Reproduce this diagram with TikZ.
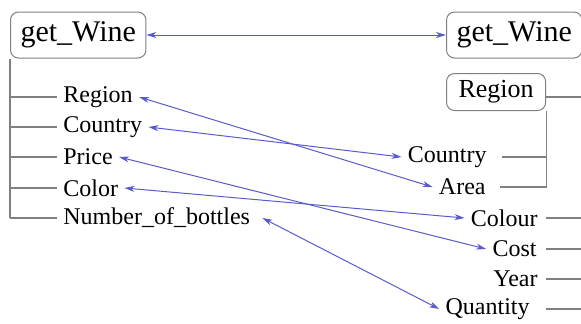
\documentclass[tikz,border=0pt]{standalone}
\usepackage{fontspec}
\setmainfont{Liberation Serif}
\usetikzlibrary{arrows.meta}
\definecolor{linkblue}{RGB}{90,90,205}

\begin{document}
\begin{tikzpicture}[x=0.5pt,y=-0.5pt,
  box/.style={draw=gray,rounded corners=4pt,line width=0.5pt,anchor=west},
  item/.style={inner sep=3pt,font=\fontsize{12}{14}\selectfont},
  tree/.style={draw=gray,line width=0.6pt},
  link/.style={draw=linkblue,line width=0.5pt,
    {Stealth[length=5pt,width=3pt,inset=1.5pt]}-{Stealth[length=5pt,width=3pt,inset=1.5pt]}}]
\useasboundingbox (0,0) rectangle (581,323);
\clip (0,0) rectangle (581,323);
\coordinate (E) at (590,0);
% left schema
\node[box,inner xsep=5pt,minimum height=23pt,font=\fontsize{15}{17}\selectfont] (lw) at (10,35) {get\_Wine};
\node[item,anchor=west] (lreg) at (57,97) {Region};
\node[item,anchor=west] (lcou) at (57,127) {Country};
\node[item,anchor=west] (lpri) at (57,157) {Price};
\node[item,anchor=west] (lcol) at (57,188) {Color};
\node[item,anchor=west] (lnum) at (57,218) {Number\_of\_bottles};
\draw[tree] (lw.south west) -- (lw.south west |- lnum.west);
\draw[tree] (lreg.west -| lw.south west) -- (lreg.west);
\draw[tree] (lcou.west -| lw.south west) -- (lcou.west);
\draw[tree] (lpri.west -| lw.south west) -- (lpri.west);
\draw[tree] (lcol.west -| lw.south west) -- (lcol.west);
\draw[tree] (lnum.west -| lw.south west) -- (lnum.west);
% right schema
\node[box,inner xsep=5pt,minimum height=23pt,font=\fontsize{15}{17}\selectfont] (rw) at (446,35) {get\_Wine};
\node[box,inner xsep=6pt,minimum height=18.5pt,font=\fontsize{13}{15}\selectfont] (rreg) at (446,92) {Region};
\node[item,anchor=east] (rcou) at (493,157) {Country};
\node[item,anchor=east] (rarea) at (492,187) {Area};
\node[item,anchor=east] (rcol) at (544,218) {Colour};
\node[item,anchor=east] (rcost) at (543,249) {Cost};
\node[item,anchor=east] (ryear) at (544,279) {Year};
\node[item,anchor=east] (rqua) at (536,309) {Quantity};
\draw[tree] ([yshift=-2.5pt]rreg.east) -- ([yshift=-2.5pt]rreg.east -| E);
\draw[tree] (rreg.south east) |- ([xshift=4pt]rarea.east);
\draw[tree] ([xshift=4.5pt]rcou.east) -- (rcou.east -| rreg.south east);
\draw[tree] (rcol.east -| rreg.east) -- (rcol.east -| E);
\draw[tree] (rcost.east -| rreg.east) -- (rcost.east -| E);
\draw[tree] (ryear.east -| rreg.east) -- (ryear.east -| E);
\draw[tree] (rqua.east -| rreg.east) -- (rqua.east -| E);
% mappings
\draw[link] (lw) -- (rw);
\draw[link] (lreg.east) -- (rarea.west);
\draw[link] (lcou.east) -- (rcou.west);
\draw[link] (lpri.east) -- (rcost.west);
\draw[link] (lcol.east) -- (rcol.west);
\draw[link] ([xshift=3pt]lnum.east) -- (rqua.west);
\end{tikzpicture}
\end{document}
